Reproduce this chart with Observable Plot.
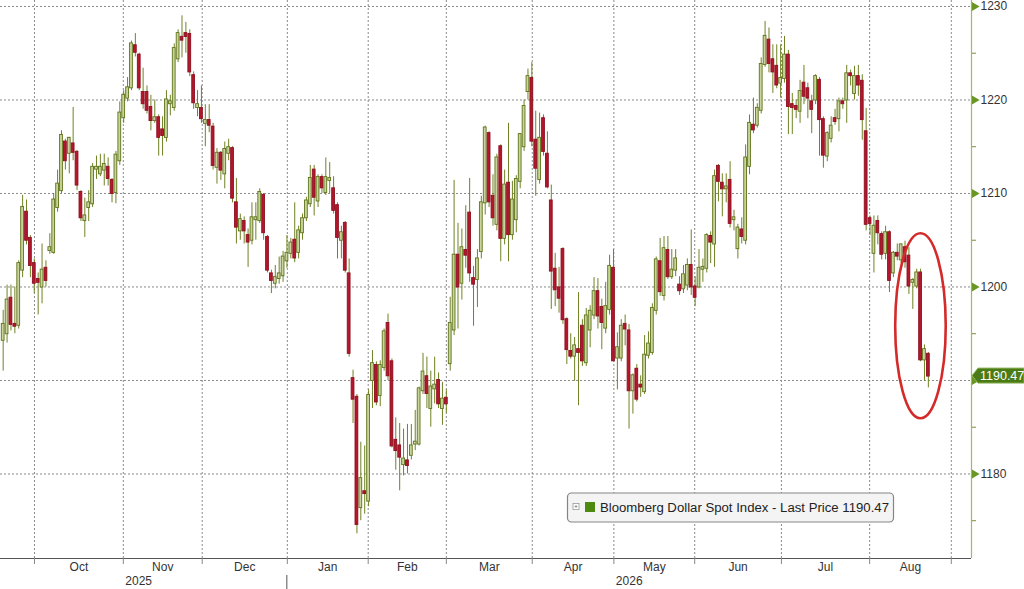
<!DOCTYPE html>
<html><head><meta charset="utf-8">
<script src="https://cdn.jsdelivr.net/npm/d3@7"></script>
<script src="https://cdn.jsdelivr.net/npm/@observablehq/plot@0.6"></script>
<style>html,body{margin:0;padding:0;background:#fff;} #chart{width:1024px;height:589px;}</style>
</head><body><div id="chart"></div>
<script>
// Daily candles, Bloomberg Dollar Spot Index (trading-day index 0..238)
const open = [
1194.3,1195,1198.8,1196,1195.9,1201.8,1208,1205.2,1202.5,1200.8,
1200,1202,1203.9,1203.7,1208.5,1210.3,1215.5,1214.3,1215.3,1214.4,
1210.1,1207.1,1208.5,1208.9,1212.6,1212.1,1212.5,1212.8,1211.4,1210.1,
1213.5,1218.1,1220.2,1221.3,1225.8,1224.8,1220.8,1220.8,1219.2,1217.8,
1218.1,1216.8,1216,1219.6,1219.2,1224.4,1226.7,1227.1,1227,1222.6,
1219.2,1219.1,1217.5,1217.8,1217.1,1212.8,1214.3,1212.1,1214.3,1214.8,
1209,1206,1207,1205.5,1205,1207.2,1207.1,1209.8,1205.3,1201.4,
1200.4,1200.9,1201.2,1202.8,1203.6,1205,1203.7,1205.8,1207.4,1208.9,
1212.5,1209.2,1211.7,1210.1,1211.4,1210.5,1208.7,1205,1206.8,1201.4,
1190.2,1188.2,1176.4,1178.1,1177.1,1190,1191.6,1188.4,1191.4,1196.1,
1192,1183.6,1183,1181,1181.4,1182,1183.2,1183.2,1188.9,1190.4,
1187,1189.1,1190,1187,1188.1,1191.8,1195.4,1203.4,1200.4,1203.9,
1207.9,1200.9,1200.8,1203.8,1209,1216.4,1209.7,1206.7,1215,1205.2,
1211.1,1205.6,1207.2,1211.3,1215,1220.9,1222.3,1215.7,1211.5,1218,
1214.2,1209.2,1201.9,1199.9,1204,1196.5,1193.1,1192.6,1193.3,1195.8,
1191.9,1195.4,1197,1199.5,1197.8,1195.6,1197.6,1202,1192.4,1192.4,
1196,1195.3,1188.9,1191.2,1189.5,1188.8,1192.7,1193,1197.5,1202.7,
1199.1,1203.9,1201.1,1201.8,1200.2,1199.8,1200.2,1202.3,1200,1200,
1201.9,1202,1205.4,1204.6,1212.9,1211.1,1210.5,1211.4,1207.2,1204.1,
1206.1,1205,1212.9,1217.3,1217.3,1218.9,1223.8,1226.4,1224.3,1223.6,
1221.8,1222.3,1224.8,1219.5,1219.3,1218.8,1221.8,1221.2,1219.8,1220,
1222.1,1217.9,1214,1215.9,1218,1218,1219.8,1220,1222.8,1220.7,
1222.5,1222,1216.6,1207.3,1203.6,1207,1205.6,1203.6,1205.8,1201.5,
1203.6,1202.9,1204.2,1203.3,1200.5,1200.1,1201.5,1192.2,1192.8];
const high = [
1197.5,1200.2,1200.2,1200,1202.8,1209.8,1209.3,1205.5,1203,1201.5,
1204.6,1202.8,1205.7,1210,1212.5,1216.7,1215.8,1216,1219.2,1214.6,
1210.3,1209.5,1210.3,1213.2,1214,1214.2,1214.2,1213.8,1211.6,1214.5,
1219.8,1221,1222.4,1226.3,1227.1,1225,1223.4,1221.5,1220.5,1220,
1218.4,1218.2,1221,1220.5,1226,1227.5,1229,1228.3,1227.5,1223,
1221,1221.5,1219.5,1219.5,1217.5,1214.8,1214.5,1215.5,1215.8,1215,
1211.6,1207.8,1207.5,1206.2,1209,1209,1210.5,1210,1205.5,1201.8,
1202.3,1203.2,1203.8,1205.5,1205.2,1209,1206.5,1207.8,1209.6,1213,
1213,1212,1212,1213.8,1213.3,1211.8,1209,1206.5,1207,1203,
1191.1,1188.5,1183.4,1183,1189,1193.2,1192,1192.1,1195.5,1197.1,
1192.3,1186,1185.4,1184.8,1185.3,1185.3,1186.8,1189.3,1192.9,1192.5,
1191,1192.5,1190.8,1189.8,1189,1198.9,1211.4,1206.8,1206.2,1208.7,
1211.6,1202.2,1204,1209.7,1217.2,1216.6,1212,1214.2,1215.2,1212.5,
1217.5,1211.3,1211.9,1216.4,1220,1223.3,1224,1218.8,1218.6,1218.4,
1216.6,1210.9,1203.6,1202.1,1204.2,1196.7,1195,1194.6,1199.4,1196.5,
1197.7,1198,1201,1200.9,1198.7,1200.5,1203.4,1204,1195.1,1196.5,
1197,1196,1190.7,1191.7,1190.5,1194.8,1195.2,1198.2,1203.2,1205.2,
1205.4,1205.4,1204,1204,1201.1,1202.3,1203,1206.1,1201.1,1204,
1203,1205.7,1205.9,1212.5,1213.1,1212.1,1212.1,1213.4,1208.2,1206.7,
1207.4,1215.2,1218.4,1220.2,1219.6,1224.5,1228.4,1227.7,1225.9,1225.9,
1225.9,1226.8,1225.3,1220.7,1220,1222.1,1223.7,1221.8,1220.5,1222.7,
1222.4,1218.2,1216.6,1218.2,1219,1220.2,1220.2,1223.7,1223.2,1223.6,
1223.7,1222.7,1219.1,1207.6,1207.6,1207.6,1205.9,1206.5,1206,1203.8,
1204.6,1204.6,1204.9,1204.2,1200.9,1201.9,1201.9,1193.8,1193];
const low = [
1191,1194,1195.3,1195,1195.5,1201,1204.5,1201,1199.3,1197,
1198.2,1200,1203.5,1203.5,1208,1210,1212.5,1212.1,1213.5,1210.3,
1207,1205.3,1207,1208.5,1211.5,1211.8,1210.8,1210.8,1209,1208.9,
1213,1217.5,1219.8,1221,1224.6,1221,1219,1218.5,1216.7,1217.5,
1214,1214,1215.5,1218.3,1218.8,1224,1224.5,1225,1222.5,1219,
1218.2,1217.5,1215,1216.5,1212.5,1211,1211.4,1210.5,1213.5,1209,
1204.6,1205,1204.6,1202.1,1204.5,1205,1206.8,1205,1201.5,1199.3,
1199.8,1200.3,1200.5,1202,1203,1202.6,1203,1205,1207,1208.5,
1207.6,1208.5,1210,1209.8,1210,1207.8,1203,1203,1201.5,1192.5,
1185.4,1173.6,1175,1175.7,1176.5,1187,1187.3,1187.2,1191,1190,
1182.8,1180.4,1178.2,1179.8,1180,1181.5,1182.5,1183,1188.5,1187,
1185,1187.5,1187,1185.2,1186.5,1191,1194.8,1195.5,1198.6,1202,
1200.5,1195.8,1197.8,1203,1207.7,1208.5,1206.5,1206,1202.7,1204.5,
1202.7,1205,1205.8,1210.5,1214.5,1220,1215,1209.7,1211,1214,
1210.5,1197.6,1197.9,1197.2,1196,1191.7,1192.3,1189.9,1187.3,1191.5,
1191.5,1193.5,1196.5,1195.5,1193.3,1195,1197,1192,1189,1192,
1193.7,1184.8,1186.4,1187.7,1188.2,1188.5,1192.3,1192.7,1197,1199,
1198.5,1200.8,1200.8,1201.1,1199.1,1199.3,1199.6,1199.1,1197.9,1199.8,
1200.5,1201.5,1202.5,1202.1,1209.1,1207.5,1209,1206.3,1206,1203,
1204.6,1204.5,1212,1216.4,1217,1218.5,1223.5,1222.9,1220.7,1221.2,
1220.2,1221.8,1216.3,1216.3,1218,1217.5,1219.5,1218,1216.4,1219.5,
1214,1212.7,1213.4,1215.4,1217.3,1216.6,1219,1217.5,1221.5,1220,
1220.4,1215.7,1206,1205.5,1201.5,1204.5,1202.9,1202.9,1199.4,1201,
1202.8,1202.5,1202,1199.2,1197.6,1199.8,1192,1189.9,1189.2];
const close = [
1196,1198.6,1196,1195.8,1202.5,1208.5,1205,1202.3,1200.4,1200.5,
1201.8,1200.7,1204.2,1209.3,1211,1216.2,1213.5,1215.9,1214.4,1210.9,
1207.4,1207.6,1209,1212.8,1212.8,1212.8,1213.1,1211.6,1210,1214.1,
1218.6,1220.5,1221.3,1226,1225.1,1221.3,1219.6,1218.9,1217.8,1218.1,
1216,1216.2,1220,1219.8,1225.5,1227.1,1226.4,1226.8,1223,1219.7,
1219.5,1218,1217.8,1217.3,1213,1214.3,1212.5,1214.7,1214.9,1209.5,
1206.4,1207.2,1206,1204.8,1207.4,1207.4,1210.1,1205.8,1201.8,1200.7,
1201,1201.4,1203.2,1203.6,1204.7,1203.1,1206,1207.3,1209.2,1211.6,
1209.6,1211.7,1210.6,1211.7,1211.6,1208.2,1205.3,1205.8,1201.8,1192.9,
1188,1174.6,1179.5,1177.9,1188.4,1191.8,1187.7,1191.6,1195.2,1190.5,
1183,1182.5,1181.8,1181.6,1180.9,1183,1183.4,1189.1,1190.9,1188.6,
1189.3,1189.5,1187.5,1188,1187.5,1196.1,1203.4,1200,1204.2,1203.4,
1201.5,1200.3,1203,1209,1217,1209.1,1207.4,1213.8,1205.2,1210.9,
1205.6,1209.3,1211.5,1216.3,1219.3,1222.5,1215.6,1212.7,1215.9,1214.5,
1210.7,1201.7,1199.7,1198.8,1196.5,1193.3,1192.6,1193.7,1193,1192.1,
1196.9,1197.4,1199.5,1196.9,1196.2,1197.9,1202.2,1192.1,1193.5,1195.8,
1195.5,1188.9,1190.5,1188,1189.3,1192.7,1193.9,1197.7,1202.9,1199.5,
1204.1,1201.1,1201.8,1203,1199.6,1201.3,1202.3,1200,1198.9,1202,
1202.1,1205.5,1204.8,1211.8,1211.3,1210.5,1210.7,1206.8,1207.4,1206.3,
1205.4,1213.8,1217.5,1216.8,1219.1,1223.8,1226.8,1223.9,1223,1221.6,
1222.3,1224.8,1219.3,1219.2,1219,1220.9,1220.4,1220.2,1219,1222.5,
1217.9,1214.1,1216.4,1217.2,1217.7,1219.8,1219.6,1222.8,1222.6,1222.5,
1221.6,1217.9,1206.7,1206.8,1206.5,1205.8,1203.5,1205.8,1200.7,1203.6,
1203.3,1204.5,1202.7,1200.1,1200.7,1201.5,1192.2,1193.3,1190.47];

// month boundaries (in trading-day index units) and labels
const monthBounds = [8.05, 30.9, 51.2, 73.1, 93.9, 114.0, 136.1, 157.1, 177.9, 200.2, 222.9, 243.9];
const monthLabels = ["Oct","Nov","Dec","Jan","Feb","Mar","Apr","May","Jun","Jul","Aug"];
const yearLabels = ["2025","2026"];
const yearLabelAt = [1, 7];      // which month boundary each year label starts at
const yearDividerAt = 3;         // Jan boundary
const yTicks = [1180,1190,1200,1210,1220,1230];
const yMinorTicks = [1175,1185,1195,1205,1215,1225];
const lastPrice = 1190.47;
const legendText = "Bloomberg Dollar Spot Index - Last Price 1190.47";
const xDomain = [-0.69, 249.1];
const yDomain = [1170.96, 1230.64];
const highlight = {i: 236.1, price: 1195.8, di: 6.5, dp: 9.9};

const candles = open.map((o, i) => ({i, o, h: high[i], l: low[i], c: close[i]}));
const up = candles.filter(d => d.c >= d.o);
const down = candles.filter(d => d.c < d.o);
const monthMids = monthLabels.map((m, k) => (monthBounds[k] + monthBounds[k + 1]) / 2);
// the tick label hidden under the last-price tag is not drawn
const yTickLabels = yTicks.filter(t => Math.abs(t - lastPrice) > 2);

const W = 1024, H = 589;
const plot = Plot.plot({
  width: W, height: H,
  marginLeft: 0, marginRight: 53, marginTop: 0, marginBottom: 31,
  style: {fontFamily: "'Liberation Sans', Arial, sans-serif", fontSize: "12px", color: "#333", background: "#fff", overflow: "visible"},
  x: {type: "linear", domain: xDomain, axis: null, label: null},
  y: {type: "linear", domain: yDomain, axis: null, label: null},
  marks: [
    Plot.ruleY(yTicks, {stroke: "#8a8a8a", strokeDasharray: "2,2", strokeWidth: 1}),
    Plot.ruleX(monthBounds, {stroke: "#8a8a8a", strokeDasharray: "2,2", strokeWidth: 1}),
    Plot.ruleX(candles, {x: "i", y1: "l", y2: "h", stroke: "#6f8224", strokeWidth: 1}),
    Plot.rect(up, {x1: d => d.i - 0.36, x2: d => d.i + 0.36, y1: "o", y2: "c",
      fill: "#c8d49c", stroke: "#5f7419", strokeWidth: 0.9, insetTop: -0.5, insetBottom: -0.5}),
    Plot.rect(down, {x1: d => d.i - 0.36, x2: d => d.i + 0.36, y1: "o", y2: "c",
      fill: "#b2172c", stroke: "#8e1020", strokeWidth: 0.9, insetTop: -0.5, insetBottom: -0.5}),
    Plot.ruleY([yDomain[0]], {stroke: "#555", strokeWidth: 1}),
    Plot.ruleX([xDomain[1]], {stroke: "#a6b56c", strokeWidth: 1.2}),
    Plot.axisX(monthBounds, {anchor: "bottom", tickSize: 6, tickFormat: () => "", stroke: "#888", label: null}),
    Plot.text(monthLabels, {x: (d, k) => monthMids[k], frameAnchor: "bottom", dy: 12, fill: "#333"}),
    Plot.text(yearLabels, {x: (d, k) => monthBounds[yearLabelAt[k]], frameAnchor: "bottom", dy: 26, dx: 2, textAnchor: "start", fill: "#333"}),
    Plot.axisY(yMinorTicks, {anchor: "right", tickSize: 4, tickFormat: () => "", stroke: "#7c8c3a", label: null}),
    Plot.axisY(yTickLabels, {anchor: "right", tickSize: 0, tickPadding: 9, tickFormat: d3.format("d"), fill: "#333", label: null}),
    Plot.dot(yTicks, {x: () => xDomain[1], y: d => d, symbol: "triangle", r: 3.3, rotate: 90, dx: 3, fill: "#6a9624", stroke: "none"})
  ]
});
document.getElementById("chart").appendChild(plot);

const sx = plot.scale("x"), sy = plot.scale("y");
const X = v => sx.apply(v), Y = v => sy.apply(v);
const svg = d3.select(plot);

// year divider below axis
svg.append("line").attr("x1", X(monthBounds[yearDividerAt])).attr("x2", X(monthBounds[yearDividerAt]))
  .attr("y1", 575).attr("y2", H).attr("stroke", "#555").attr("stroke-width", 1);

// highlight ellipse
svg.append("ellipse")
  .attr("cx", X(highlight.i)).attr("cy", Y(highlight.price))
  .attr("rx", X(highlight.i + highlight.di) - X(highlight.i))
  .attr("ry", Y(highlight.price - highlight.dp) - Y(highlight.price))
  .attr("fill", "none").attr("stroke", "#d42a2a").attr("stroke-width", 2.6);

// last price tag
const yy = Y(lastPrice), x0 = X(xDomain[1]);
svg.append("polygon")
  .attr("points", `${x0 + 1},${yy} ${x0 + 7},${yy - 7.5} ${W},${yy - 7.5} ${W},${yy + 7.5} ${x0 + 7},${yy + 7.5}`)
  .attr("fill", "#4b7b14").attr("stroke", "#8db45a").attr("stroke-width", 1);
svg.append("text").attr("x", x0 + 9).attr("y", yy + 4.3).attr("fill", "#fff")
  .attr("text-anchor", "start").attr("font-size", "12.5px").text(lastPrice.toFixed(2));

// legend box
const lg = svg.append("g");
lg.append("rect").attr("x", 567.5).attr("y", 493).attr("width", 326).attr("height", 29).attr("rx", 4)
  .attr("fill", "#f4f4f4").attr("stroke", "#858585").attr("stroke-width", 1.2);
lg.append("rect").attr("x", 573).attr("y", 503.5).attr("width", 6).attr("height", 6)
  .attr("fill", "#fff").attr("stroke", "#999").attr("stroke-width", 0.8);
lg.append("path").attr("d", "M574.5,506.5H577.5M576,505V508").attr("stroke", "#888").attr("stroke-width", 0.8);
lg.append("rect").attr("x", 585).attr("y", 502).attr("width", 10).attr("height", 10).attr("fill", "#4e8a10");
lg.append("text").attr("x", 600).attr("y", 511.5).attr("fill", "#222").attr("font-size", "12.5px")
  .attr("text-anchor", "start").attr("textLength", 289).attr("lengthAdjust", "spacingAndGlyphs").text(legendText);
</script>
</body></html>
